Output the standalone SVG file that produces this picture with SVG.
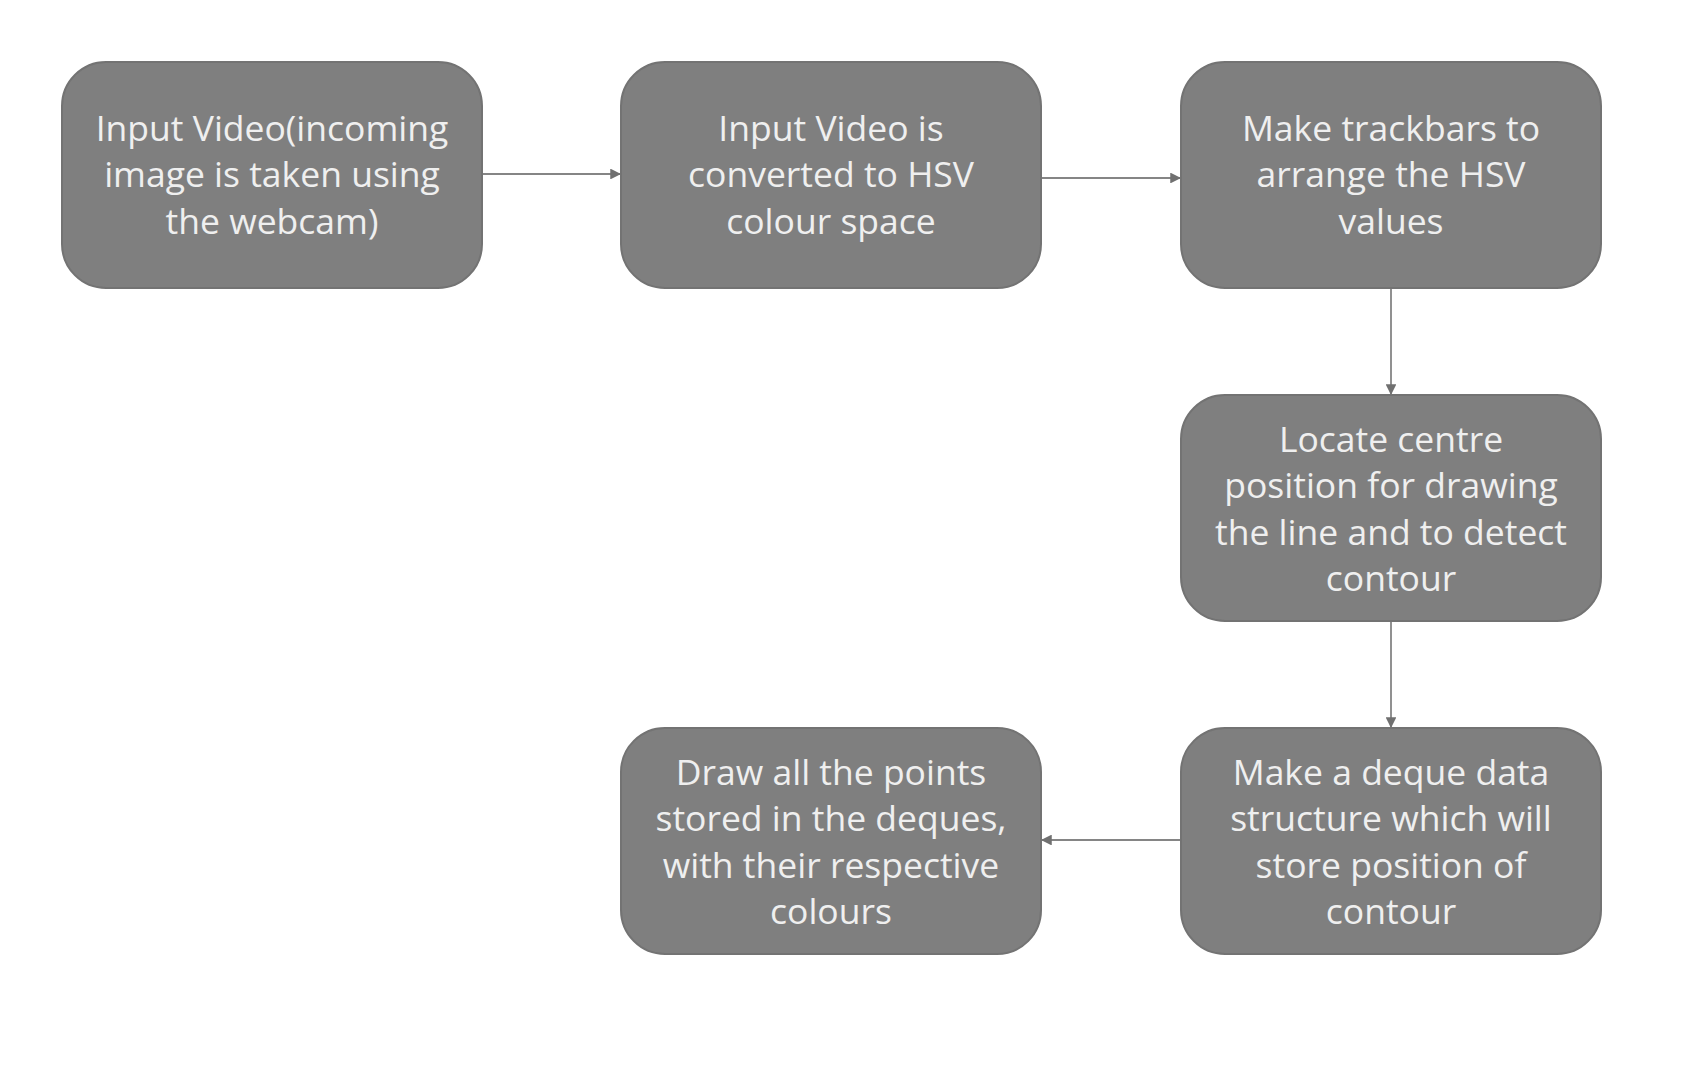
<svg xmlns="http://www.w3.org/2000/svg" width="1684" height="1080" viewBox="0 0 1684 1080">
<style>
.box{fill:#7f7f7f;stroke:#737373;stroke-width:2}
.t{font-family:"Open Sans","Noto Sans",sans-serif;font-size:35.5px;fill:#efefef;text-anchor:middle}
.c{stroke:#858585;stroke-width:1.8;fill:none;marker-end:url(#ah)}
</style>
<defs>
<marker id="ah" viewBox="0 0 10 10" refX="9" refY="5" markerWidth="6" markerHeight="6" orient="auto" markerUnits="strokeWidth">
<path d="M0,0 L10,5 L0,10 z" fill="#707070"/>
</marker>
</defs>
<rect width="1684" height="1080" fill="#ffffff"/>
<g id="connectors">
<line class="c" x1="482" y1="174" x2="620" y2="174"/>
<line class="c" x1="1041" y1="178" x2="1180" y2="178"/>
<line class="c" x1="1391" y1="288" x2="1391" y2="394"/>
<line class="c" x1="1391" y1="621" x2="1391" y2="727"/>
<line class="c" x1="1181" y1="840" x2="1042" y2="840"/>
</g>
<g id="node1">
<rect class="box" x="62" y="62" width="420" height="226" rx="44"/>
<text class="t"><tspan x="272" y="141">Input Video(incoming</tspan><tspan x="272" y="187">image is taken using</tspan><tspan x="272" y="234">the webcam)</tspan></text>
</g>
<g id="node2">
<rect class="box" x="621" y="62" width="420" height="226" rx="44"/>
<text class="t"><tspan x="831" y="141">Input Video is</tspan><tspan x="831" y="187">converted to HSV</tspan><tspan x="831" y="234">colour space</tspan></text>
</g>
<g id="node3">
<rect class="box" x="1181" y="62" width="420" height="226" rx="44"/>
<text class="t"><tspan x="1391" y="141">Make trackbars to</tspan><tspan x="1391" y="187">arrange the HSV</tspan><tspan x="1391" y="234">values</tspan></text>
</g>
<g id="node4">
<rect class="box" x="1181" y="395" width="420" height="226" rx="44"/>
<text class="t"><tspan x="1391" y="452">Locate centre</tspan><tspan x="1391" y="498">position for drawing</tspan><tspan x="1391" y="545">the line and to detect</tspan><tspan x="1391" y="591">contour</tspan></text>
</g>
<g id="node5">
<rect class="box" x="1181" y="728" width="420" height="226" rx="44"/>
<text class="t"><tspan x="1391" y="785">Make a deque data</tspan><tspan x="1391" y="831">structure which will</tspan><tspan x="1391" y="878">store position of</tspan><tspan x="1391" y="924">contour</tspan></text>
</g>
<g id="node6">
<rect class="box" x="621" y="728" width="420" height="226" rx="44"/>
<text class="t"><tspan x="831" y="785">Draw all the points</tspan><tspan x="831" y="831">stored in the deques,</tspan><tspan x="831" y="878">with their respective</tspan><tspan x="831" y="924">colours</tspan></text>
</g>
</svg>
